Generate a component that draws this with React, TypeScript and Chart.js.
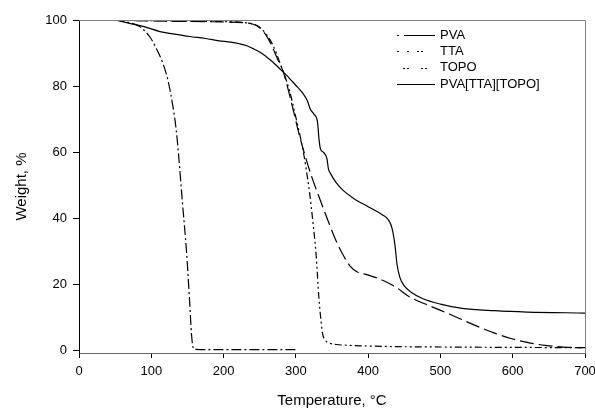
import React, { useEffect, useRef } from "react";
import { Chart, registerables } from "chart.js";

Chart.register(...registerables);

// Temperature (°C) / Weight (%)
const pvaT = [49, 70, 84, 97.6, 107, 116, 123, 130, 134.5, 138, 143, 148.7, 153, 155.6, 157.5, 160, 200, 250, 300];
const pvaW = [100, 99.2, 98, 95, 91.4, 86.9, 81.8, 73.7, 66.7, 58.6, 45, 30, 15, 5, 1.2, 0.3, 0.2, 0.2, 0.2];

const ttaT = [50, 100, 200, 245, 258, 268, 278, 291, 300, 310, 318.5, 324, 328, 332, 335, 337, 341, 345, 360, 375, 420, 512, 600, 700];
const ttaW = [100, 99.8, 99.5, 98.5, 96, 92.5, 87, 78.8, 70.5, 60.5, 48.5, 38, 29, 15.5, 8.5, 5, 3, 2.3, 1.7, 1.5, 1.2, 1.0, 0.9, 0.8];

const topoT = [50, 100, 200, 240, 255, 265, 275, 283, 295, 305, 312, 322, 332, 346, 355, 365, 375, 385, 397, 415, 438, 457, 485, 512, 553, 575, 599, 620, 645, 670, 700];
const topoW = [100, 99.7, 99.4, 98.8, 96.5, 93, 88, 84, 74, 65, 59.5, 52.5, 46.5, 38.4, 33.5, 29, 25.5, 23.7, 23, 21.7, 19.2, 16.2, 13.5, 11, 7.1, 5.2, 3.5, 2.4, 1.5, 1, 0.8];

const compT = [50, 70, 90, 112, 130, 153, 175, 194, 210, 222, 232, 240, 250, 259, 268, 277, 287, 295.5, 303, 309, 316, 320, 325, 330, 332, 334, 338, 343, 345, 348, 355, 365, 380, 400, 420, 428, 433, 437, 440, 444, 450, 460, 475, 500, 530, 575, 620, 700];
const compW = [100, 99, 98, 96.5, 95.8, 95, 94.4, 93.7, 93.3, 92.8, 92.2, 91.4, 90.3, 88.9, 87.3, 85.4, 83.3, 81.3, 79.5, 78, 75.5, 73, 71.5, 69, 64, 61, 60, 58, 55, 53.5, 51, 48.5, 46, 43.5, 41, 39.5, 37, 32, 26, 22, 19.5, 17.5, 15.7, 14, 12.7, 12, 11.6, 11.3];

const seriesLabels = ["PVA", "TTA", "TOPO", "PVA[TTA][TOPO]"];
const xTicks = [0, 100, 200, 300, 400, 500, 600, 700];
const yTicks = [0, 20, 40, 60, 80, 100];

const toPts = (xs: number[], ys: number[]) => xs.map((x, i) => ({ x, y: ys[i] }));

const FONT = "'Liberation Sans', Arial, sans-serif";

const framePlugin = {
  id: "frameAndLegend",
  afterDatasetsDraw(chart: any) {
    const { ctx, chartArea } = chart;
    ctx.save();
    ctx.strokeStyle = "#808080";
    ctx.lineWidth = 1;
    ctx.beginPath();
    ctx.moveTo(chartArea.left, chartArea.top + 0.5);
    ctx.lineTo(chartArea.right + 0.5, chartArea.top + 0.5);
    ctx.lineTo(chartArea.right + 0.5, chartArea.bottom);
    ctx.stroke();

    // legend
    const x0 = chartArea.right - 188;
    const lineLen = 38;
    ctx.font = `13px ${FONT}`;
    ctx.textBaseline = "middle";
    ctx.fillStyle = "#000";
    chart.data.datasets.forEach((ds: any, i: number) => {
      const y = chartArea.top + 15 + i * 16.4;
      ctx.strokeStyle = "#000";
      ctx.lineWidth = ds.borderWidth;
      ctx.setLineDash(ds.legendDash || ds.borderDash || []);
      ctx.beginPath();
      ctx.moveTo(x0, Math.round(y) + 0.5);
      ctx.lineTo(x0 + lineLen, Math.round(y) + 0.5);
      ctx.stroke();
      ctx.setLineDash([]);
      ctx.fillText(ds.label, x0 + lineLen + 5, y);
    });
    ctx.restore();
  },
};

export default function App() {
  const ref = useRef<HTMLCanvasElement>(null);

  useEffect(() => {
    if (!ref.current) return;
    const common = {
      borderColor: "#000",
      borderWidth: 1.2,
      pointRadius: 0,
      fill: false,
      cubicInterpolationMode: "monotone",
    };
    const chart = new Chart(ref.current, {
      type: "line",
      data: {
        datasets: [
          { ...common, label: seriesLabels[0], data: toPts(pvaT, pvaW), borderDash: [10, 3, 2, 3], legendDash: [2, 5, 30, 0] },
          { ...common, label: seriesLabels[1], data: toPts(ttaT, ttaW), borderDash: [7, 3, 2, 3, 2, 3], legendDash: [2, 8, 2, 8, 2, 2, 2, 20] },
          { ...common, label: seriesLabels[2], data: toPts(topoT, topoW), borderDash: [14, 5], legendDash: [0, 6, 2, 2, 2, 12, 2, 2, 2, 10] },
          { ...common, label: seriesLabels[3], data: toPts(compT, compW), borderDash: [] },
        ] as any,
      },
      options: {
        responsive: false,
        animation: false,
        layout: { padding: { top: 20, right: 10, left: 0, bottom: 0 } },
        plugins: { legend: { display: false }, tooltip: { enabled: false } },
        scales: {
          x: {
            type: "linear",
            min: 0,
            max: 700,
            afterBuildTicks: (s: any) => { s.ticks = xTicks.map((v) => ({ value: v })); },
            afterFit: (s: any) => { s.height = 55; s.paddingLeft = 0; s.paddingRight = 0; },
            ticks: { color: "#000", font: { family: FONT, size: 13 }, padding: 6, maxRotation: 0 },
            grid: { drawOnChartArea: false, drawTicks: true, tickLength: 5, tickColor: "#000" },
            border: { color: "#666", width: 1 },
            title: {
              display: true,
              text: "Temperature, °C",
              color: "#000",
              font: { family: FONT, size: 15, lineHeight: 1 },
              padding: { top: 0, bottom: 0 },
            },
          },
          y: {
            type: "linear",
            min: -0.8,
            max: 100,
            afterBuildTicks: (s: any) => { s.ticks = yTicks.map((v) => ({ value: v })); },
            afterFit: (s: any) => { s.width = 79; s.paddingTop = 0; s.paddingBottom = 0; },
            ticks: { color: "#000", font: { family: FONT, size: 13 }, padding: 6 },
            grid: { drawOnChartArea: false, drawTicks: true, tickLength: 6, tickColor: "#000" },
            border: { color: "#000", width: 1 },
            title: {
              display: true,
              text: "Weight, %",
              color: "#000",
              font: { family: FONT, size: 15, lineHeight: 1.2 },
              padding: { top: 13, bottom: 0 },
            },
          },
        },
      } as any,
      plugins: [framePlugin],
    });
    return () => chart.destroy();
  }, []);

  return (
    <div style={{ position: "absolute", left: 0, top: 0, width: 595, height: 408, background: "#fff" }}>
      <canvas ref={ref} width={595} height={408} />
    </div>
  );
}
